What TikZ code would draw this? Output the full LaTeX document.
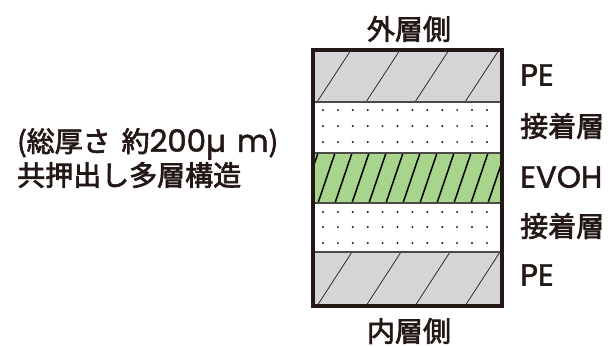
\documentclass[tikz,border=0pt]{standalone}
\usepackage{fontspec}
\setmainfont{Noto Sans CJK JP}[FakeBold=2.5]
\newfontfamily\jp{Noto Sans CJK JP}[FakeBold=2.5]
\newfontfamily\lat{Poppins}[FakeBold=1.5,Scale=1.1]
\definecolor{peGray}{HTML}{D4D5D7}
\definecolor{evohGreen}{HTML}{A9D48C}
\definecolor{inkDark}{HTML}{231815}
\definecolor{sepGray}{HTML}{4A4A4A}
\tikzset{
  lbl/.style={font=\jp\fontsize{28}{30}\selectfont, text=inkDark, inner sep=0pt},
  rlbl/.style={lbl, anchor=west},
  thinhatch/.style={draw=inkDark, line width=0.7pt},
  thickhatch/.style={draw=black, line width=1.5pt},
  sep/.style={draw=sepGray, line width=1.4pt},
  frame/.style={draw=inkDark, line width=3.2pt},
}
\begin{document}
\begin{tikzpicture}[x=1pt,y=-1pt]
\useasboundingbox (0,0) rectangle (608,346);
% layers
\fill[peGray] (313,50) rectangle (502,102);
\fill[white] (313,102) rectangle (502,153);
\fill[evohGreen] (313,153) rectangle (502,203);
\fill[white] (313,203) rectangle (502,252);
\fill[peGray] (313,252) rectangle (502,306);
% hatch in PE layers
\begin{scope}
  \clip (313,50) rectangle (502,102);
  \foreach \b in {317,366,415,465,514} {\draw[thinhatch] (\b,102) -- (\b+34,50);}
\end{scope}
\begin{scope}
  \clip (313,252) rectangle (502,306);
  \foreach \b in {317,366,415,465,514} {\draw[thinhatch] (\b,306) -- (\b+35,252);}
\end{scope}
% hatch in EVOH layer
\begin{scope}
  \clip (313,153) rectangle (502,203);
  \foreach \i in {-1,...,11} {\draw[thickhatch] (318+\i*17,203) -- (318+\i*17+17,153);}
\end{scope}
% dots
\foreach \yy in {110,126,142,212,227,243} {
  \foreach \i in {0,...,11} {\fill[inkDark] (323+\i*14.9,\yy) circle (1.1);}
}
% separators
\draw[sep] (313,102) -- (502,102);
\draw[sep] (313,153) -- (502,153);
\draw[sep] (313,203) -- (502,203);
\draw[sep] (313,252) -- (502,252);
\draw[frame] (313,50) rectangle (502,306);
% labels
\node[lbl] (outer) at (409,29) {外層側};
\node[lbl] (inner) at (409,331) {内層側};
\node[rlbl] (pe1) at (520,75) {\lat PE};
\node[rlbl] (adh1) at (520,126) {接着層};
\node[rlbl] (evoh) at (520,177) {\lat EVOH};
\node[rlbl] (adh2) at (520,226) {接着層};
\node[rlbl] (pe2) at (520,275) {\lat PE};
\node[lbl, anchor=west] (thick) at (17,144) {(総厚さ\hspace{11pt}約{\lat200µ\hspace{11pt}m})};
\node[lbl, anchor=west] (coex) at (17,175) {共押出し多層構造};
\end{tikzpicture}
\end{document}
